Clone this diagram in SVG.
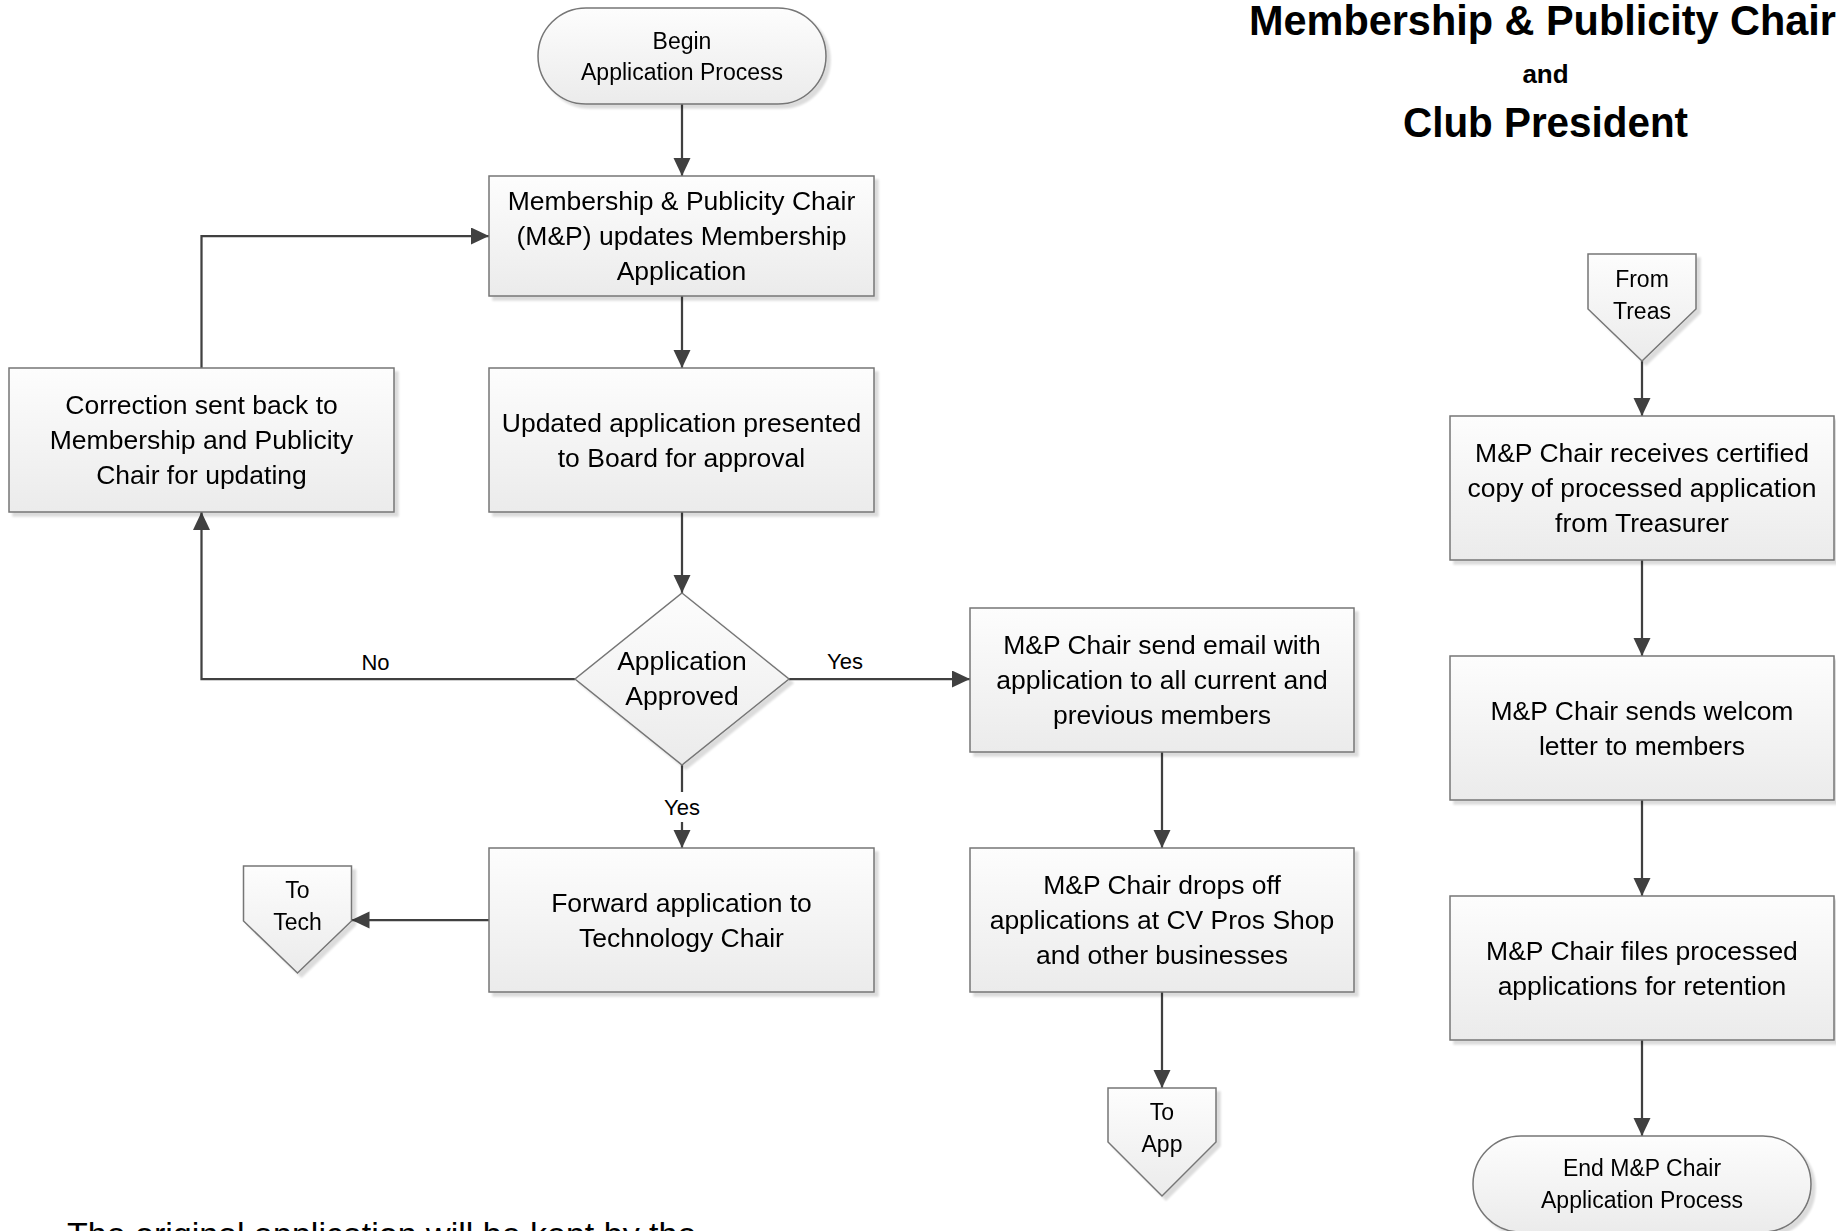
<svg xmlns="http://www.w3.org/2000/svg" width="1836" height="1231" viewBox="0 0 1836 1231">
  <style>
    .shape { fill: url(#shapeFill); stroke: #767676; stroke-width: 1.5; }
    .node { filter: url(#shadow); }
    .txt { font-family: "Liberation Sans", Arial, sans-serif; font-size: 26.5px; fill: #000; text-anchor: middle; }
    .small { font-family: "Liberation Sans", Arial, sans-serif; font-size: 23px; fill: #000; text-anchor: middle; }
    .lbl { font-family: "Liberation Sans", Arial, sans-serif; font-size: 22px; fill: #000; text-anchor: middle; }
    .title { font-family: "Liberation Sans", Arial, sans-serif; font-weight: bold; fill: #000; }
    .conn { fill: none; stroke: #404040; stroke-width: 2.25; marker-end: url(#arrow); }
  </style>
  <defs>
    <linearGradient id="shapeFill" x1="0" y1="0" x2="0" y2="1">
      <stop offset="0" stop-color="#fdfdfd"/>
      <stop offset="1" stop-color="#ebebeb"/>
    </linearGradient>
    <filter id="shadow" x="-5%" y="-5%" width="115%" height="120%">
      <feGaussianBlur in="SourceAlpha" stdDeviation="1.2" result="b"/>
      <feOffset in="b" dx="4" dy="4" result="o"/>
      <feComponentTransfer in="o" result="s">
        <feFuncA type="linear" slope="0.14"/>
      </feComponentTransfer>
      <feMerge>
        <feMergeNode in="s"/>
        <feMergeNode in="SourceGraphic"/>
      </feMerge>
    </filter>
    <marker id="arrow" markerUnits="userSpaceOnUse" markerWidth="19" markerHeight="18" refX="18" refY="8.5" orient="auto">
      <path d="M0,0 L18,8.5 L0,17 Z" fill="#404040"/>
    </marker>
  </defs>

  <rect width="1836" height="1231" fill="#ffffff"/>

  <!-- headings -->
  <text class="title" x="1249" y="35" font-size="43" textLength="587" lengthAdjust="spacingAndGlyphs">Membership &amp; Publicity Chair</text>
  <text class="title" x="1545.5" y="83" font-size="26" text-anchor="middle">and</text>
  <text class="title" x="1403" y="137" font-size="43" textLength="285" lengthAdjust="spacingAndGlyphs">Club President</text>

  <!-- connectors -->
  <g id="connectors">
    <path class="conn" d="M682,104 L682,176"/>
    <path class="conn" d="M682,296 L682,368"/>
    <path class="conn" d="M682,512 L682,593"/>
    <path class="conn" d="M575,679 L201.5,679 L201.5,512"/>
    <path class="conn" d="M201.5,368 L201.5,236 L489,236"/>
    <path class="conn" d="M789,679 L970,679"/>
    <path class="conn" d="M682,765 L682,848"/>
    <path class="conn" d="M489,920 L351.5,920"/>
    <path class="conn" d="M1162,752 L1162,848"/>
    <path class="conn" d="M1162,992 L1162,1088"/>
    <path class="conn" d="M1642,361 L1642,416"/>
    <path class="conn" d="M1642,560 L1642,656"/>
    <path class="conn" d="M1642,800 L1642,896"/>
    <path class="conn" d="M1642,1040 L1642,1136"/>
    <text class="lbl" x="375.5" y="670">No</text>
    <text class="lbl" x="845" y="669">Yes</text>
    <rect x="660" y="792" width="44" height="30" fill="#ffffff"/>
    <text class="lbl" x="682" y="815">Yes</text>
  </g>

  <!-- left / middle column -->
  <g id="begin" class="node">
    <rect class="shape" x="538" y="8" width="288" height="96" rx="48" ry="48"/>
    <text class="small" x="682" y="48.5">Begin</text>
    <text class="small" x="682" y="80">Application Process</text>
  </g>

  <g id="update-application" class="node">
    <rect class="shape" x="489" y="176" width="385" height="120"/>
    <text class="txt" x="681.5" y="210">Membership &amp; Publicity Chair</text>
    <text class="txt" x="681.5" y="245">(M&amp;P) updates Membership</text>
    <text class="txt" x="681.5" y="280">Application</text>
  </g>

  <g id="present-to-board" class="node">
    <rect class="shape" x="489" y="368" width="385" height="144"/>
    <text class="txt" x="681.5" y="431.5">Updated application presented</text>
    <text class="txt" x="681.5" y="466.5">to Board for approval</text>
  </g>

  <g id="correction" class="node">
    <rect class="shape" x="9" y="368" width="385" height="144"/>
    <text class="txt" x="201.5" y="414">Correction sent back to</text>
    <text class="txt" x="201.5" y="449">Membership and Publicity</text>
    <text class="txt" x="201.5" y="484">Chair for updating</text>
  </g>

  <g id="approved" class="node">
    <polygon class="shape" points="682,593 789,679 682,765 575,679"/>
    <text class="txt" x="682" y="670">Application</text>
    <text class="txt" x="682" y="705">Approved</text>
  </g>

  <g id="forward-to-tech" class="node">
    <rect class="shape" x="489" y="848" width="385" height="144"/>
    <text class="txt" x="681.5" y="911.5">Forward application to</text>
    <text class="txt" x="681.5" y="946.5">Technology Chair</text>
  </g>

  <g id="to-tech" class="node">
    <polygon class="shape" points="243.5,866 351.5,866 351.5,921 297.5,973 243.5,921"/>
    <text class="small" x="297.5" y="898">To</text>
    <text class="small" x="297.5" y="929.5">Tech</text>
  </g>

  <g id="send-email" class="node">
    <rect class="shape" x="970" y="608" width="384" height="144"/>
    <text class="txt" x="1162" y="654">M&amp;P Chair send email with</text>
    <text class="txt" x="1162" y="689">application to all current and</text>
    <text class="txt" x="1162" y="724">previous members</text>
  </g>

  <g id="drop-off" class="node">
    <rect class="shape" x="970" y="848" width="384" height="144"/>
    <text class="txt" x="1162" y="894">M&amp;P Chair drops off</text>
    <text class="txt" x="1162" y="929">applications at CV Pros Shop</text>
    <text class="txt" x="1162" y="964">and other businesses</text>
  </g>

  <g id="to-app" class="node">
    <polygon class="shape" points="1108,1088 1216,1088 1216,1142 1162,1196 1108,1142"/>
    <text class="small" x="1162" y="1120">To</text>
    <text class="small" x="1162" y="1152">App</text>
  </g>

  <!-- right column -->
  <g id="from-treas" class="node">
    <polygon class="shape" points="1588,254 1696,254 1696,309 1642,361 1588,309"/>
    <text class="small" x="1642" y="287">From</text>
    <text class="small" x="1642" y="319">Treas</text>
  </g>

  <g id="receive-copy" class="node">
    <rect class="shape" x="1450" y="416" width="384" height="144"/>
    <text class="txt" x="1642" y="462">M&amp;P Chair receives certified</text>
    <text class="txt" x="1642" y="497">copy of processed application</text>
    <text class="txt" x="1642" y="532">from Treasurer</text>
  </g>

  <g id="welcome-letter" class="node">
    <rect class="shape" x="1450" y="656" width="384" height="144"/>
    <text class="txt" x="1642" y="719.5">M&amp;P Chair sends welcom</text>
    <text class="txt" x="1642" y="754.5">letter to members</text>
  </g>

  <g id="file-applications" class="node">
    <rect class="shape" x="1450" y="896" width="384" height="144"/>
    <text class="txt" x="1642" y="959.5">M&amp;P Chair files processed</text>
    <text class="txt" x="1642" y="994.5">applications for retention</text>
  </g>

  <g id="end" class="node">
    <rect class="shape" x="1473" y="1136" width="338" height="96" rx="48" ry="48"/>
    <text class="small" x="1642" y="1176">End M&amp;P Chair</text>
    <text class="small" x="1642" y="1207.5">Application Process</text>
  </g>

  <!-- note running off the bottom edge -->
  <text x="67" y="1246" font-family="Liberation Sans, Arial, sans-serif" font-size="34" fill="#000">The original application will be kept by the</text>
</svg>
